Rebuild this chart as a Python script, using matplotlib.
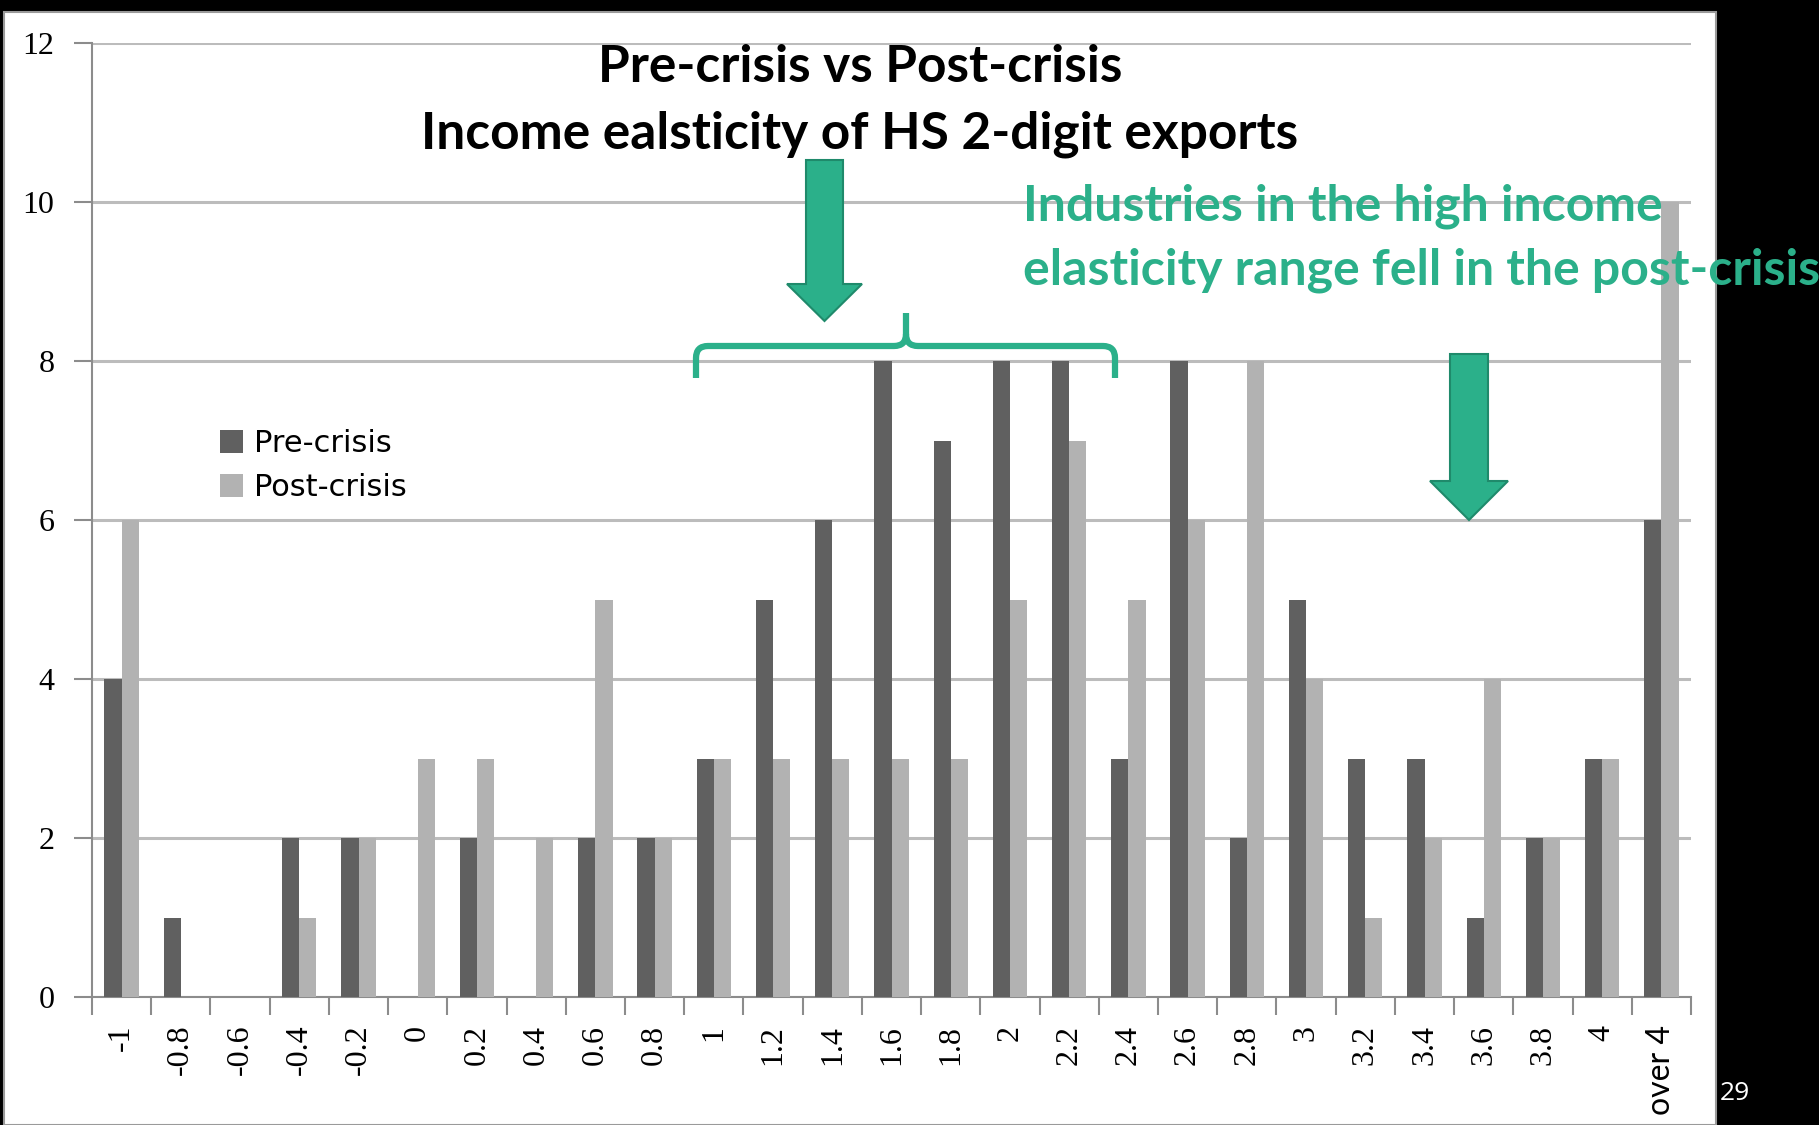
import numpy as np
import matplotlib.pyplot as plt
from matplotlib.patches import Rectangle, Polygon, PathPatch
from matplotlib.path import Path

# data
categories = ["-1", "-0.8", "-0.6", "-0.4", "-0.2", "0", "0.2", "0.4", "0.6", "0.8",
              "1", "1.2", "1.4", "1.6", "1.8", "2", "2.2", "2.4", "2.6", "2.8",
              "3", "3.2", "3.4", "3.6", "3.8", "4", "over 4"]
pre_crisis = [4, 1, 0, 2, 2, 0, 2, 0, 2, 2, 3, 5, 6, 8, 7, 8, 8, 3, 8, 2, 5, 3, 3, 1, 2, 3, 6]
post_crisis = [6, 0, 0, 1, 2, 3, 3, 2, 5, 2, 3, 3, 3, 3, 3, 5, 7, 5, 6, 8, 4, 1, 2, 4, 2, 3, 10]
y_ticks = [0, 2, 4, 6, 8, 10, 12]

W, H = 1819, 1125
GREEN = "#2BB08A"
GREEN_EDGE = "#1F8A6B"

def fx(px):
    return px / W

def fy(py):
    return 1 - py / H

fig = plt.figure(figsize=(W / 100, H / 100), dpi=100, facecolor="black")

# white slide area (behind the axes)
fig.patches.append(Rectangle((fx(4), 0), fx(1716) - fx(4), fy(12), transform=fig.transFigure,
                             facecolor="white", edgecolor="#9a9a9a", lw=1.5, zorder=-1))

ax = fig.add_axes([fx(92), fy(997), fx(1691) - fx(92), fy(43) - fy(997)])
ax.set_facecolor("none")

x = np.arange(len(categories))
w = 0.29
ax.bar(x - w / 2, pre_crisis, w, color="#606060", label="Pre-crisis", zorder=3)
ax.bar(x + w / 2, post_crisis, w, color="#b2b2b2", label="Post-crisis", zorder=3)

ax.set_xlim(-0.5, len(categories) - 0.5)
ax.set_ylim(0, 12)
ax.set_yticks(y_ticks)
ax.set_yticklabels([str(v) for v in y_ticks], fontfamily="Liberation Serif", fontsize=23)
ax.tick_params(axis="y", length=13, width=1.5, color="#8c8c8c", pad=14)
ax.yaxis.grid(True, color="#bcbcbc", lw=2.2, zorder=0)

ax.set_xticks(x)
ax.set_xticklabels(categories, rotation=90, fontfamily="Liberation Serif", fontsize=23, va="top")
# the last label is rendered in a sans face on the slide
ax.get_xticklabels()[-1].set_fontfamily("Lato")
ax.get_xticklabels()[-1].set_fontsize(23)
ax.tick_params(axis="x", which="major", length=0, pad=20)
ax.set_xticks(np.arange(len(categories) + 1) - 0.5, minor=True)
ax.tick_params(axis="x", which="minor", length=13, width=1.5, color="#8c8c8c")

for s in ["top", "right"]:
    ax.spines[s].set_visible(False)
for s in ["left", "bottom"]:
    ax.spines[s].set_color("#8c8c8c")
    ax.spines[s].set_linewidth(1.5)

ax.legend(loc="upper left", bbox_to_anchor=(fx(220), fy(429)), bbox_transform=fig.transFigure,
          frameon=False, handlelength=0.75, handleheight=0.75,
          handletextpad=0.35, labelspacing=0.5, borderaxespad=0, borderpad=0,
          prop={"family": "DejaVu Sans", "size": 22})

# title
fig.text(fx(860), fy(67), "Pre-crisis vs Post-crisis", ha="center", va="center",
         fontfamily="Lato", fontweight="bold", fontsize=37, color="black")
fig.text(fx(860), fy(134), "Income ealsticity of HS 2-digit exports", ha="center", va="center",
         fontfamily="Lato", fontweight="bold", fontsize=37, color="black")

# green note
fig.text(fx(1023), fy(206), "Industries in the high income", ha="left", va="center",
         fontfamily="Lato", fontweight="bold", fontsize=36, color=GREEN)
fig.text(fx(1023), fy(270), "elasticity range fell in the post-crisis", ha="left", va="center",
         fontfamily="Lato", fontweight="bold", fontsize=36, color=GREEN)

# block arrows
def block_arrow(xl, xr, top, hl, hr, base, tip):
    xm = (hl + hr) / 2
    pts = [(xl, top), (xr, top), (xr, base), (hr, base), (xm, tip), (hl, base), (xl, base)]
    fig.patches.append(Polygon([(fx(a), fy(b)) for a, b in pts], closed=True,
                               transform=fig.transFigure, facecolor=GREEN,
                               edgecolor=GREEN_EDGE, lw=1.5, zorder=5))

block_arrow(806, 843, 160, 787, 862, 284, 321)
block_arrow(1450, 1488, 354, 1430, 1508, 481, 520)

# curly brace
bl, br, bm = 696, 1115, 906
ytop, ybot, ypk = 346, 378, 313
r = 12
verts = [(bl, ybot), (bl, ytop + r), (bl, ytop), (bl + r, ytop),
         (bm - r, ytop), (bm, ytop), (bm, ytop - r), (bm, ypk),
         (bm, ytop - r), (bm, ytop), (bm + r, ytop),
         (br - r, ytop), (br, ytop), (br, ytop + r), (br, ybot)]
codes = [Path.MOVETO, Path.LINETO, Path.CURVE3, Path.CURVE3,
         Path.LINETO, Path.CURVE3, Path.CURVE3, Path.LINETO,
         Path.MOVETO, Path.CURVE3, Path.CURVE3,
         Path.LINETO, Path.CURVE3, Path.CURVE3, Path.LINETO]
brace = Path([(fx(a), fy(b)) for a, b in verts], codes)
fig.patches.append(PathPatch(brace, transform=fig.transFigure, facecolor="none",
                             edgecolor=GREEN, lw=4.5, capstyle="butt", zorder=5))

# slide number
fig.text(fx(1720), fy(1094), "29", ha="left", va="center", fontfamily="Open Sans",
         fontsize=19, color="white")

fig.savefig("out.png", dpi=100, facecolor="black")
